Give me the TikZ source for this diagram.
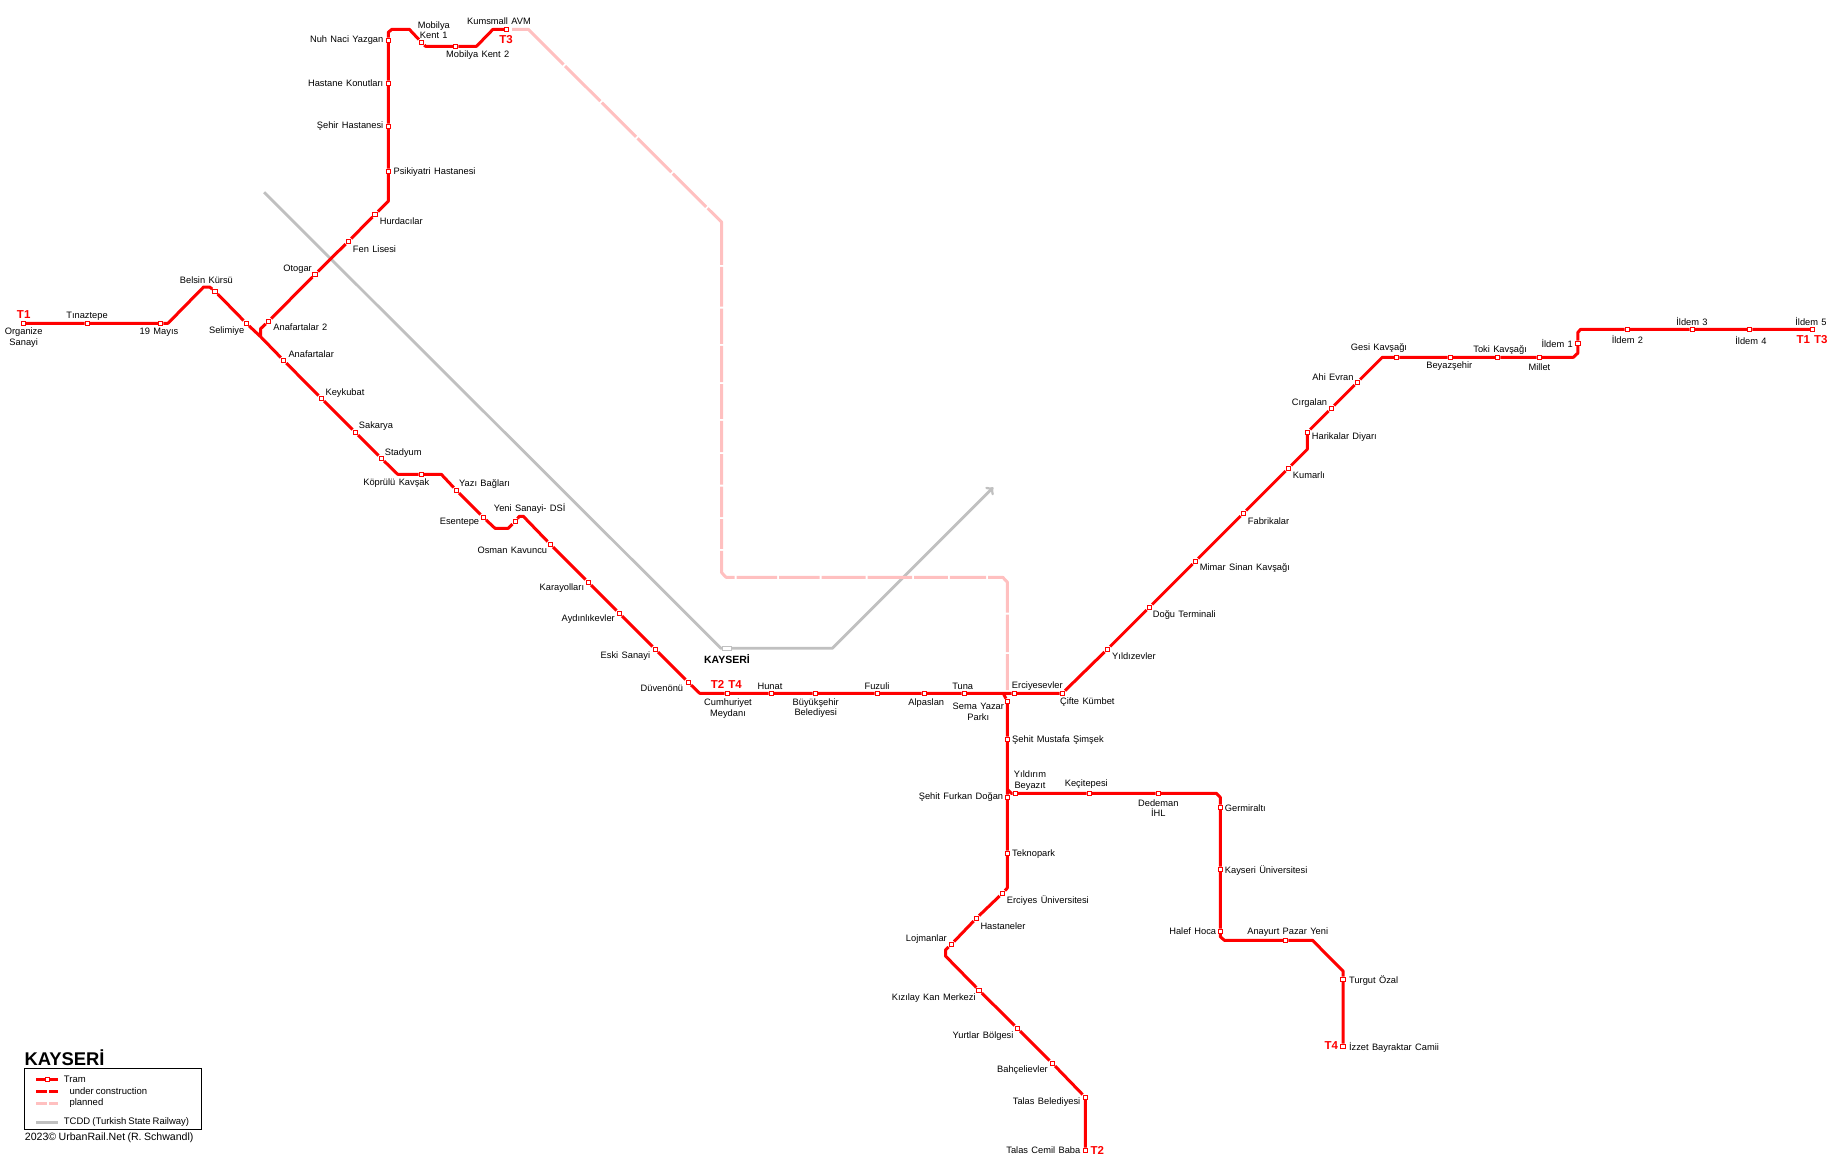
\documentclass[tikz,border=0pt]{standalone}
\usepackage{fontspec}
\setmainfont[WordSpace=1.3]{Liberation Sans}
\newfontfamily\legfont[WordSpace=0.8]{Liberation Sans}
\usepackage{xcolor}
\usetikzlibrary{positioning}
\definecolor{tramred}{HTML}{FF0000}
\definecolor{planpink}{HTML}{FFC0C0}
\definecolor{railgrey}{HTML}{C0C0C0}
\tikzset{
  tram/.style={draw=tramred, line width=3pt, line join=round},
  buildline/.style={tram, dash pattern=on 10.7pt off 2.3pt on 9pt off 2pt},
  planbase/.style={draw=planpink, line width=3pt, line join=round},
  planline/.style={planbase, dash pattern=on 66.2pt off 2pt on 49.9pt off 2pt on 48.5pt off 2pt on 47.9pt off 2pt on 47.1pt off 2pt on 62.5pt off 2pt on 39.7pt off 2pt on 35.3pt off 2pt on 36.3pt off 2pt on 34.7pt off 2pt on 31.3pt off 2pt on 30.4pt off 2pt on 30.6pt off 2pt on 29.7pt off 2pt on 36.7pt off 2pt on 40.6pt off 2pt on 40.4pt off 2pt on 44pt off 2pt on 44.6pt off 2pt on 33.7pt off 2pt on 36.3pt off 2pt on 51.7pt off 2pt on 37.6pt off 2pt on 40pt off 2pt},
  railline/.style={draw=railgrey, line width=2.8pt, line join=round},
  stn/.style={rectangle, draw=tramred, fill=white, line width=1pt, minimum size=4.5pt, inner sep=0pt},
  railstn/.style={rectangle, draw=railgrey, fill=white, line width=1pt, minimum width=9pt, minimum height=4.5pt, inner sep=0pt},
  stnlab/.style={text=black, font=\fontsize{9.3}{10.2}\selectfont, inner sep=0pt, align=center, yshift=-0.8pt},
  linelab/.style={text=tramred, font=\bfseries\fontsize{11.5}{12}\selectfont, inner sep=0pt},
  citylab/.style={text=black, font=\bfseries\fontsize{10.5}{12}\selectfont, inner sep=0pt},
  leglab/.style={text=black, font=\legfont\fontsize{9.5}{10}\selectfont, inner sep=0pt, anchor=west}
}
\begin{document}
\begin{tikzpicture}[x=1pt,y=-1pt]
  \useasboundingbox (0,0) rectangle (1834,1160);

  % T1 west
  \node[stn] (organize) at (23.3,323.3) {};
  \node[stn] (tinaztepe) at (87.4,323.3) {};
  \node[stn] (mayis) at (160.5,323.3) {};
  \node[stn] (belsin) at (215,291.3) {};
  \node[stn] (selimiye) at (246.3,323.3) {};
  \node[stn] (anafartalarB) at (268.5,321.3) {};
  \node[stn] (anafartalar) at (283.5,360.3) {};
  \node[stn] (keykubat) at (321.3,398.3) {};
  \node[stn] (sakarya) at (355.3,432.3) {};
  \node[stn] (stadyum) at (381.3,458.3) {};
  \node[stn] (koprulu) at (421.3,474.3) {};
  \node[stn] (yazi) at (456.3,490.3) {};
  \node[stn] (esentepe) at (483.3,517.3) {};
  \node[stn] (yeni) at (515.3,521.3) {};
  \node[stn] (osman) at (550.3,544.3) {};
  \node[stn] (karayollari) at (588.3,582.3) {};
  \node[stn] (aydinlik) at (619.3,613.3) {};
  \node[stn] (eski) at (655.3,649.3) {};
  \node[stn] (duvenonu) at (688.3,682.3) {};
  \node[stn] (cumhuriyet) at (727.3,693.3) {};
  \node[stn] (hunat) at (771.3,693.3) {};
  \node[stn] (buyuksehir) at (815.3,693.3) {};
  \node[stn] (fuzuli) at (877.3,693.3) {};
  \node[stn] (alpaslan) at (924.3,693.3) {};
  \node[stn] (tuna) at (964.3,693.3) {};
  \node[stn] (erciyesevler) at (1014.3,693.3) {};
  \node[stn] (cifte) at (1062.3,693.3) {};
  \node[stn] (yildizevler) at (1107.3,649.3) {};
  \node[stn] (dogu) at (1149.3,607.3) {};
  \node[stn] (mimar) at (1195.3,561.3) {};
  \node[stn] (fabrikalar) at (1243.3,513.3) {};
  \node[stn] (kumarli) at (1288.3,468.3) {};
  \node[stn] (harikalar) at (1307.3,432.3) {};
  \node[stn] (cirgalan) at (1331.3,408.3) {};
  \node[stn] (ahi) at (1357.3,382.3) {};
  \node[stn] (gesi) at (1396.5,357.3) {};
  \node[stn] (beyazsehir) at (1450.3,357.3) {};
  \node[stn] (toki) at (1497.7,357.3) {};
  \node[stn] (millet) at (1539.4,357.3) {};
  \node[stn] (ildemA) at (1577.9,343.3) {};
  \node[stn] (ildemB) at (1627.4,329.3) {};
  \node[stn] (ildemC) at (1692.4,329.3) {};
  \node[stn] (ildemD) at (1749.6,329.3) {};
  \node[stn] (ildemE) at (1812.5,329.3) {};

  % T3 north
  \node[stn] (otogar) at (315.1,274.3) {};
  \node[stn] (fen) at (348.4,241.3) {};
  \node[stn] (hurdacilar) at (375.2,214.3) {};
  \node[stn] (psikiyatri) at (388.3,171.3) {};
  \node[stn] (sehirH) at (388.3,126.3) {};
  \node[stn] (hastaneK) at (388.3,83.3) {};
  \node[stn] (nuh) at (388.3,40.3) {};
  \node[stn] (mobilyaA) at (421.5,42.3) {};
  \node[stn] (mobilyaB) at (455.5,46.3) {};
  \node[stn] (kumsmall) at (506.5,29.3) {};

  % T2 south
  \node[stn] (sema) at (1007.3,701.3) {};
  \node[stn] (mustafa) at (1007.3,739.3) {};
  \node[stn] (furkan) at (1007.3,797.3) {};
  \node[stn] (teknopark) at (1007.3,853.3) {};
  \node[stn] (erciyesU) at (1002.4,893.3) {};
  \node[stn] (hastaneler) at (976.3,918.3) {};
  \node[stn] (lojmanlar) at (951.4,944.3) {};
  \node[stn] (kizilay) at (979.1,990.3) {};
  \node[stn] (yurtlar) at (1017.3,1028.3) {};
  \node[stn] (bahce) at (1052.4,1063.3) {};
  \node[stn] (talasB) at (1085.3,1097.3) {};
  \node[stn] (talasC) at (1085.3,1150.3) {};

  % T4 south
  \node[stn] (yildirim) at (1015.3,793.3) {};
  \node[stn] (kecitepesi) at (1089.3,793.3) {};
  \node[stn] (dedeman) at (1158.3,793.3) {};
  \node[stn] (germiralti) at (1220.3,807.3) {};
  \node[stn] (kayseriU) at (1220.3,869.3) {};
  \node[stn] (halef) at (1220.3,931.3) {};
  \node[stn] (anayurt) at (1285.5,940.3) {};
  \node[stn] (turgut) at (1343.2,979.3) {};
  \node[stn] (izzet) at (1343.2,1046.3) {};

  \node[railstn] (kayseriG) at (727,648.3) {};

  % grey railway
  \coordinate (railA) at (264.1,192.3);
  \coordinate (railB) at (832.3,648.3);
  \coordinate (railC) at (993.3,487.3);
  \coordinate (railD) at (721,648.3);
  \draw[railline] (railA) -- (railD) -- (kayseriG);
  \draw[railline, ->] (kayseriG) -- (railB) -- (railC);

  % planned
  \coordinate (planA) at (512,29.3);
  \coordinate (planB) at (528.3,29.3);
  \coordinate (planC) at (721.7,222.3);
  \coordinate (planD) at (721.7,572.7);
  \coordinate (planE) at (726,577.3);
  \coordinate (planF) at (1002.7,577.3);
  \coordinate (planG) at (1007.3,582);
  \coordinate (planH) at (1007.3,690);
  \draw[planline] (planA) -- (planB) -- (planC) -- (planD) -- (planE) -- (planF) -- (planG) -- (planH);

  % tram lines
  \draw[tram] (organize) -- (tinaztepe) -- (mayis) -- (168,323.3) -- (203.6,287) -- (209.6,287) -- (belsin) -- (selimiye) -- (260.6,336.7) -- (anafartalar) -- (keykubat) -- (sakarya) -- (stadyum) -- (397.7,474.3) -- (koprulu) -- (441.3,474.3) -- (yazi) -- (esentepe) -- (495,528.3) -- (508.3,528.3) -- (yeni) -- (519.3,516.3) -- (523.3,516.3) -- (osman) -- (karayollari) -- (aydinlik) -- (eski) -- (duvenonu) -- (699.7,693.3) -- (cumhuriyet) -- (hunat) -- (buyuksehir) -- (fuzuli) -- (alpaslan) -- (tuna) -- (erciyesevler) -- (cifte) -- (yildizevler) -- (dogu) -- (mimar) -- (fabrikalar) -- (kumarli) -- (1307.3,449.3) -- (harikalar) -- (cirgalan) -- (ahi) -- (1382.3,357.3) -- (gesi) -- (beyazsehir) -- (toki) -- (millet) -- (1573.3,357.3) -- (1577.9,353) -- (ildemA) -- (1577.9,332.3) -- (1580.7,329.3) -- (ildemB) -- (ildemC) -- (ildemD) -- (ildemE);
  \draw[tram] (260.6,336.7) -- (260.6,328.7) -- (anafartalarB) -- (otogar) -- (fen) -- (hurdacilar) -- (388.3,201.3) -- (psikiyatri) -- (sehirH) -- (hastaneK) -- (nuh) -- (388.3,32.3) -- (391.9,29.3) -- (409.3,29.3) -- (mobilyaA) -- (425.5,46.3) -- (mobilyaB) -- (476.5,46.3) -- (493,29.3) -- (kumsmall);
  \draw[tram] (1003.3,693.3) -- (sema) -- (mustafa) -- (furkan) -- (teknopark) -- (1007.3,888) -- (erciyesU) -- (hastaneler) -- (lojmanlar) -- (945.5,950) -- (945.5,956) -- (kizilay) -- (yurtlar) -- (bahce) -- (talasB) -- (talasC);
  \draw[tram] (1007.3,789.3) -- (1011.3,793.3) -- (yildirim) -- (kecitepesi) -- (dedeman) -- (1216.3,793.3) -- (1220.3,797.3) -- (germiralti) -- (kayseriU) -- (halef) -- (1220.3,936.7) -- (1224.4,940.3) -- (anayurt) -- (1312.5,940.3) -- (1343.2,971.3) -- (turgut) -- (izzet);

  % line names
  \node[linelab] (tA) at (23.7,314.3) {T1};
  \node[linelab] (tB) at (506,39.5) {T3};
  \node[linelab] (tC) at (726.3,684) {T2 T4};
  \node[linelab] (tD) at (1097.2,1150) {T2};
  \node[linelab] (tE) at (1331.3,1046) {T4};
  \node[linelab] (tF) at (1812,339.3) {T1 T3};
  \node[citylab] (kayseriLab) at (727,659) {KAYSERİ};

  % station names
  \node[stnlab] (organizeLab) at (23.7,336.7) {Organize\\Sanayi};
  \node[stnlab] (tinaztepeLab) at (87,315) {Tınaztepe};
  \node[stnlab] (mayisLab) at (159,331.7) {19 Mayıs};
  \node[stnlab] (belsinLab) at (206.4,279.7) {Belsin Kürsü};
  \node[stnlab, left] (selimiyeLab) at (244.4,330.7) {Selimiye};
  \node[stnlab, right] (anafartalarBLab) at (273.2,326.7) {Anafartalar 2};
  \node[stnlab, right] (anafartalarLab) at (288.3,353.7) {Anafartalar};
  \node[stnlab, right] (keykubatLab) at (325.4,392.7) {Keykubat};
  \node[stnlab, right] (sakaryaLab) at (358.7,425.7) {Sakarya};
  \node[stnlab, right] (stadyumLab) at (384.7,452.7) {Stadyum};
  \node[stnlab] (kopruluLab) at (396.3,482.7) {Köprülü Kavşak};
  \node[stnlab, right] (yaziLab) at (459,483.7) {Yazı Bağları};
  \node[stnlab, left] (esentepeLab) at (479.3,521.7) {Esentepe};
  \node[stnlab] (yeniLab) at (529.7,507.7) {Yeni Sanayi- DSİ};
  \node[stnlab, left] (osmanLab) at (547.3,549.7) {Osman Kavuncu};
  \node[stnlab, left] (karayollariLab) at (584.3,587.7) {Karayolları};
  \node[stnlab, left] (aydinlikLab) at (615,618.7) {Aydınlıkevler};
  \node[stnlab, left] (eskiLab) at (650.3,655.7) {Eski Sanayi};
  \node[stnlab, left] (duvenonuLab) at (683.3,687.3) {Düvenönü};
  \node[stnlab] (cumhuriyetLab) at (728,707.7) {Cumhuriyet\\Meydanı};
  \node[stnlab] (hunatLab) at (770,685.7) {Hunat};
  \node[stnlab] (buyuksehirLab) at (815.7,707.3) {Büyükşehir\\Belediyesi};
  \node[stnlab] (fuzuliLab) at (877,685.7) {Fuzuli};
  \node[stnlab] (alpaslanLab) at (926.3,702) {Alpaslan};
  \node[stnlab] (tunaLab) at (962.7,685.7) {Tuna};
  \node[stnlab] (erciyesevlerLab) at (1037.3,685.7) {Erciyesevler};
  \node[stnlab] (cifteLab) at (1087.3,701.7) {Çifte Kümbet};
  \node[stnlab, right] (yildizevlerLab) at (1112,655.7) {Yıldızevler};
  \node[stnlab, right] (doguLab) at (1152.7,614.7) {Doğu Terminali};
  \node[stnlab, right] (mimarLab) at (1199.7,567.7) {Mimar Sinan Kavşağı};
  \node[stnlab, right] (fabrikalarLab) at (1247.7,520.7) {Fabrikalar};
  \node[stnlab, right] (kumarliLab) at (1292.7,474.7) {Kumarlı};
  \node[stnlab, right] (harikalarLab) at (1311.7,436.7) {Harikalar Diyarı};
  \node[stnlab, left] (cirgalanLab) at (1327.3,402) {Cırgalan};
  \node[stnlab, left] (ahiLab) at (1353.7,376.7) {Ahi Evran};
  \node[stnlab] (gesiLab) at (1379,347.7) {Gesi Kavşağı};
  \node[stnlab] (beyazsehirLab) at (1449.3,365.7) {Beyazşehir};
  \node[stnlab] (tokiLab) at (1500.1,349) {Toki Kavşağı};
  \node[stnlab] (milletLab) at (1539.4,366.7) {Millet};
  \node[stnlab, left] (ildemALab) at (1573,342.7) {İldem 1};
  \node[stnlab] (ildemBLab) at (1627.4,338.7) {İldem 2};
  \node[stnlab] (ildemCLab) at (1692,320.7) {İldem 3};
  \node[stnlab] (ildemDLab) at (1751,339.7) {İldem 4};
  \node[stnlab] (ildemELab) at (1811,320.7) {İldem 5};
  \node[stnlab, left] (otogarLab) at (312,268.7) {Otogar};
  \node[stnlab, right] (fenLab) at (352.7,248.7) {Fen Lisesi};
  \node[stnlab, right] (hurdacilarLab) at (379.6,220.7) {Hurdacılar};
  \node[stnlab, right] (psikiyatriLab) at (393.4,171.7) {Psikiyatri Hastanesi};
  \node[stnlab, left] (sehirHLab) at (383.5,125.7) {Şehir Hastanesi};
  \node[stnlab, left] (hastaneKLab) at (383.5,82.7) {Hastane Konutları};
  \node[stnlab, left] (nuhLab) at (383.5,39.7) {Nuh Naci Yazgan};
  \node[stnlab] (mobilyaALab) at (433.8,29.7) {Mobilya\\Kent 1};
  \node[stnlab] (mobilyaBLab) at (477.7,54.7) {Mobilya Kent 2};
  \node[stnlab] (kumsmallLab) at (499,20.7) {Kumsmall AVM};
  \node[stnlab] (semaLab) at (978.3,711) {Sema Yazar\\Parkı};
  \node[stnlab, right] (mustafaLab) at (1012,739.7) {Şehit Mustafa Şimşek};
  \node[stnlab, left] (furkanLab) at (1003.3,796.7) {Şehit Furkan Doğan};
  \node[stnlab, right] (teknoparkLab) at (1012,853.7) {Teknopark};
  \node[stnlab, right] (erciyesULab) at (1006.7,899.3) {Erciyes Üniversitesi};
  \node[stnlab, right] (hastanelerLab) at (980.3,925.7) {Hastaneler};
  \node[stnlab, left] (lojmanlarLab) at (947,938.7) {Lojmanlar};
  \node[stnlab, left] (kizilayLab) at (975.8,997.3) {Kızılay Kan Merkezi};
  \node[stnlab, left] (yurtlarLab) at (1013.6,1035.7) {Yurtlar Bölgesi};
  \node[stnlab, left] (bahceLab) at (1048,1069.7) {Bahçelievler};
  \node[stnlab, left] (talasBLab) at (1080.5,1101.7) {Talas Belediyesi};
  \node[stnlab, left] (talasCLab) at (1080.5,1149.7) {Talas Cemil Baba};
  \node[stnlab] (yildirimLab) at (1030,779.7) {Yıldırım\\Beyazıt};
  \node[stnlab] (kecitepesiLab) at (1086.3,783.7) {Keçitepesi};
  \node[stnlab] (dedemanLab) at (1158.3,807.3) {Dedeman\\İHL};
  \node[stnlab, right] (germiraltiLab) at (1224.7,807.7) {Germiraltı};
  \node[stnlab, right] (kayseriULab) at (1224.7,869.7) {Kayseri Üniversitesi};
  \node[stnlab, left] (halefLab) at (1216.3,930.7) {Halef Hoca};
  \node[stnlab] (anayurtLab) at (1287.7,931.7) {Anayurt Pazar Yeni};
  \node[stnlab, right] (turgutLab) at (1349,979.3) {Turgut Özal};
  \node[stnlab, right] (izzetLab) at (1348.8,1046.7) {İzzet Bayraktar Camii};

  % legend
  \node[font=\bfseries\fontsize{18.4}{20}\selectfont, inner sep=0pt, anchor=base west] (titleLab) at (24.3,1065) {KAYSERİ};
  \draw[black, line width=1pt] (24.3,1068.3) rectangle (201.3,1129.3);
  \node[stn] (legStn) at (47.3,1079.3) {};
  \coordinate (legA) at (36,1079.3);
  \coordinate (legB) at (58,1079.3);
  \draw[tram] (legA) -- (legStn) -- (legB);
  \coordinate (legC) at (36,1091);
  \coordinate (legD) at (58,1091);
  \draw[buildline] (legC) -- (legD);
  \coordinate (legE) at (36,1103.3);
  \coordinate (legF) at (58,1103.3);
  \draw[planbase, dash pattern=on 10.7pt off 2.3pt on 9pt off 2pt] (legE) -- (legF);
  \coordinate (legG) at (36,1122.3);
  \coordinate (legH) at (58,1122.3);
  \draw[railline] (legG) -- (legH);
  \node[leglab] (tramLab) at (63.7,1079.3) {Tram};
  \node[leglab] (buildLab) at (69.3,1091) {under construction};
  \node[leglab] (planLab) at (69.3,1103) {planned};
  \node[leglab] (railLab) at (63.7,1122) {TCDD (Turkish State Railway)};
  \node[font=\legfont\fontsize{10.6}{12}\selectfont, inner sep=0pt, anchor=west] (creditLab) at (24.7,1137.3) {2023© UrbanRail.Net (R. Schwandl)};
\end{tikzpicture}
\end{document}
